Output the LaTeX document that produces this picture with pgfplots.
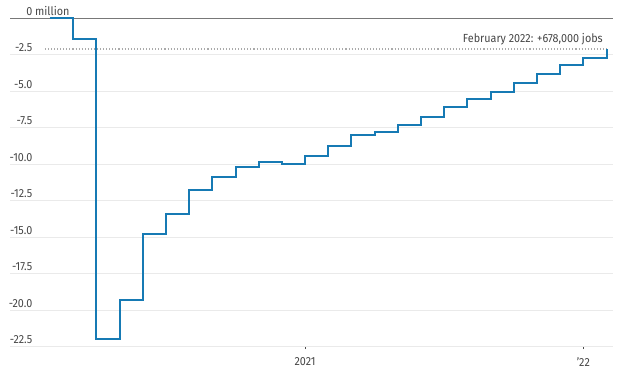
\documentclass[border=0pt]{standalone}
\usepackage{pgfplots}
\pgfplotsset{compat=1.18}
\usepackage{fontspec}
\setmainfont[FakeStretch=0.92]{Fira Sans}
\definecolor{wsjblue}{RGB}{22,122,180}
\definecolor{txt}{RGB}{70,70,70}
\definecolor{gridc}{RGB}{234,234,234}
\definecolor{zeroc}{RGB}{120,120,120}
\definecolor{dotc}{RGB}{170,170,170}
\begin{document}
\begin{tikzpicture}
\useasboundingbox (0,0) rectangle (468pt,279.75pt);
\begin{axis}[
  at={(7.5pt,19.7pt)}, anchor=south west,
  scale only axis, width=452.25pt, height=246.3pt,
  xmin=-0.725, xmax=25.28, ymin=-22.5, ymax=0,
  axis line style={draw=none},
  ymajorgrids, grid style={gridc, line width=0.8pt},
  ytick={-22.5,-20,-17.5,-15,-12.5,-10,-7.5,-5,-2.5,0},
  yticklabels={-22.5,-20.0,-17.5,-15.0,-12.5,-10.0,-7.5,-5.0,-2.5,0\rlap{ million}},
  ytick style={draw=none},
  yticklabel style={anchor=base east, inner sep=0pt, xshift=18.75pt, yshift=2.4pt},
  xtick={12,24}, xticklabels={2021,'22},
  xtick pos=lower, tick align=outside,
  xtick style={black!70, line width=0.7pt},
  major tick length=1.8pt,
  xticklabel style={yshift=-3pt},
  tick label style={font=\fontsize{8.8}{10}\selectfont, text=txt},
  clip=false,
]
\addplot[zeroc, line width=1.1pt, forget plot] coordinates {(-0.725,0) (25.28,0)};
\addplot[dotc, line width=1.1pt, dash pattern=on 0.8pt off 1.5pt, forget plot] coordinates {(0.78,-2.1) (25,-2.1)};
\addplot[wsjblue, line width=1.5pt, const plot] coordinates {
(1,0)
(2,-1.44)
(3,-21.95)
(4,-19.3)
(5,-14.8)
(6,-13.4)
(7,-11.74)
(8,-10.85)
(9,-10.18)
(10,-9.86)
(11,-9.96)
(12,-9.43)
(13,-8.72)
(14,-8.01)
(15,-7.79)
(16,-7.31)
(17,-6.74)
(18,-6.05)
(19,-5.55)
(20,-5.07)
(21,-4.45)
(22,-3.82)
(23,-3.20)
(24,-2.74)
(25,-2.1)
};
\node[anchor=base east, inner sep=0pt, text=txt, font=\fontsize{8.8}{10}\selectfont] at (axis cs:24.85,-2.1) [yshift=4.8pt] {February 2022: +678,000 jobs};
\end{axis}
\end{tikzpicture}
\end{document}
